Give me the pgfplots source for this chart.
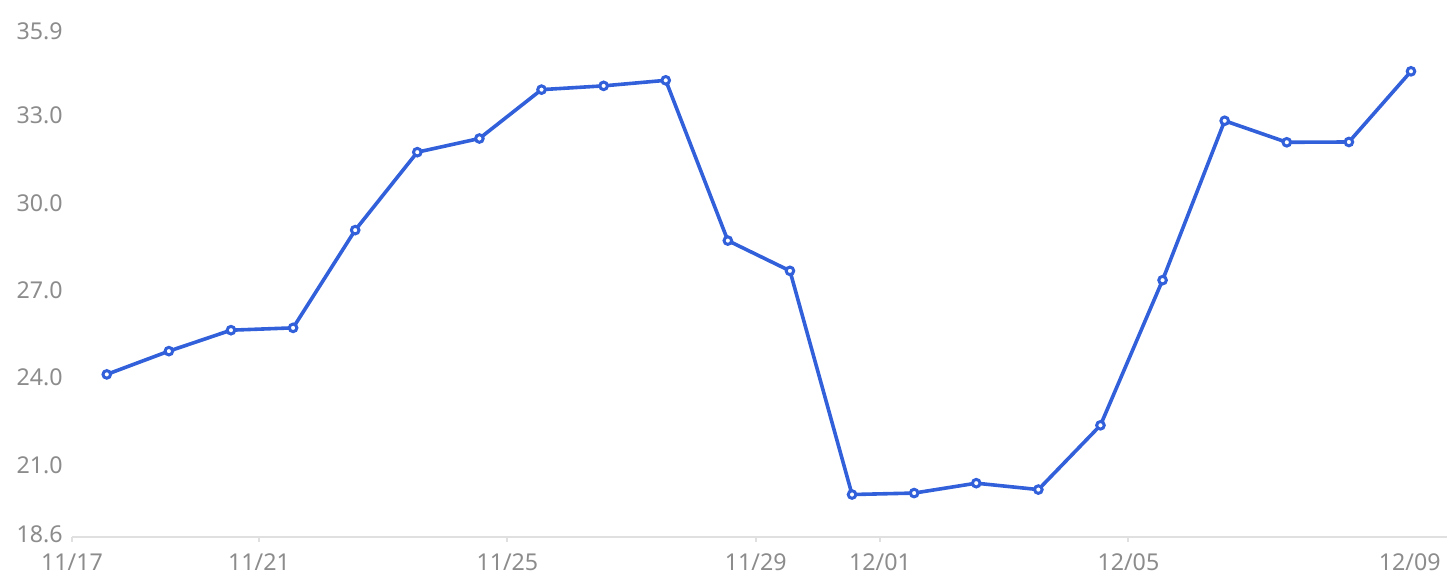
\documentclass[border=0pt]{standalone}
\usepackage{pgfplots}
\pgfplotsset{compat=1.18}
\usepackage{fontspec}
\setmainfont{Noto Sans}
\definecolor{lineblue}{HTML}{3160DA}
\definecolor{labgray}{HTML}{8C8C8C}
\definecolor{axgray}{HTML}{E0E0E0}
\begin{document}
\begin{tikzpicture}
\path[use as bounding box] (0,0) rectangle (725.5pt,293.5pt);
\begin{axis}[
  at={(36pt,25pt)}, anchor=south west,
  width=687.5pt, height=251.6pt, scale only axis,
  xmin=0.99, xmax=23.13, ymin=18.6, ymax=35.9,
  axis x line=bottom, axis y line=left,
  x axis line style={axgray, line width=1pt, -},
  y axis line style={draw=none},
  xtick style={axgray, line width=1pt},
  ytick style={draw=none},
  tick align=outside, major tick length=2.5pt,
  xtick={0.99,4,8,12,14,18},
  xticklabels={11/17,11/21,11/25,11/29,12/01,12/05},
  extra x ticks={22.53}, extra x tick labels={12/09},
  extra x tick style={major tick style={draw=none}},
  ytick={18.6,21,24,27,30,33,35.9},
  yticklabels={18.6,21.0,24.0,27.0,30.0,33.0,35.9},
  ticklabel style={font=\fontsize{11.6}{13}\selectfont, text=labgray},
  y tick label style={anchor=east, inner sep=0pt, xshift=-2pt, yshift=1.2pt},
  x tick label style={anchor=north, inner sep=0pt, yshift=-5.6pt},
  clip=false,
]
\addplot[lineblue, line width=1.8pt, mark=*, mark size=1.9pt,
  mark options={fill=white, draw=lineblue, line width=1.5pt}] coordinates {
(1.55,24.19) (2.55,24.99) (3.55,25.71) (4.55,25.79) (5.55,29.15)
(6.55,31.83) (7.55,32.30) (8.55,33.98) (9.55,34.11) (10.55,34.30)
(11.55,28.79) (12.55,27.75) (13.55,20.06) (14.55,20.11) (15.55,20.45)
(16.55,20.23) (17.55,22.44) (18.55,27.43) (19.55,32.91) (20.55,32.17)
(21.55,32.18) (22.55,34.61)
};
\end{axis}
\end{tikzpicture}
\end{document}
